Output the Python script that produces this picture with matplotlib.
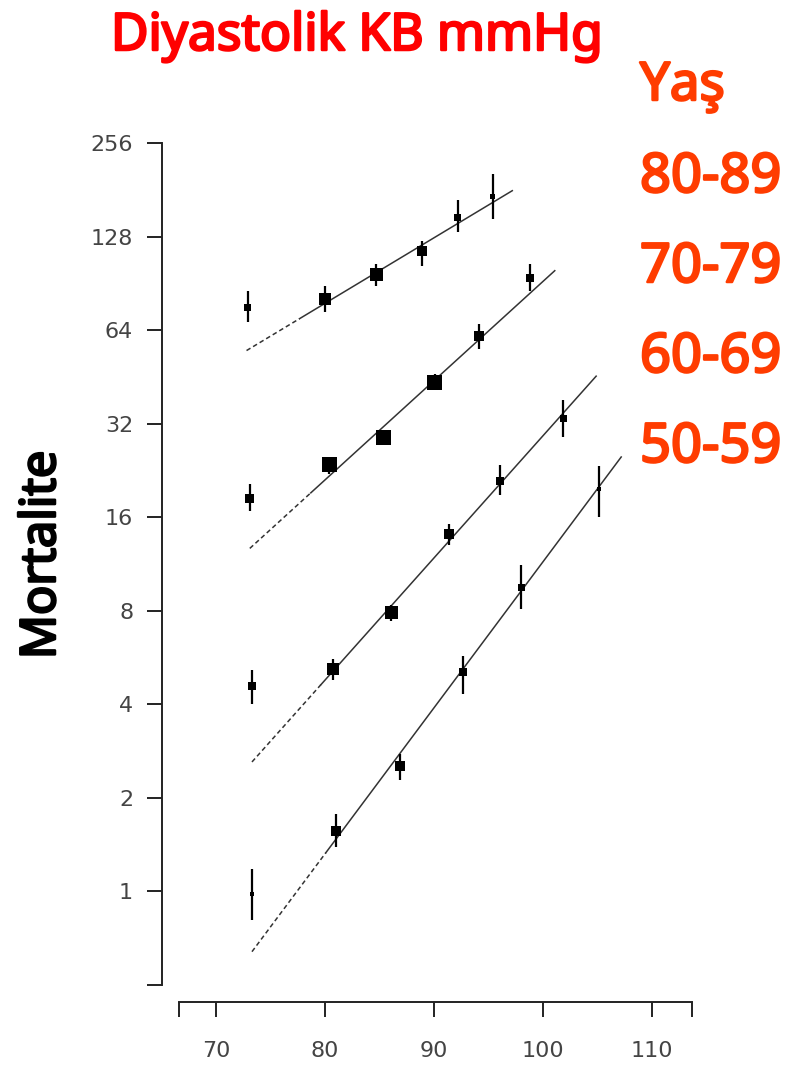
import numpy as np
import matplotlib.pyplot as plt
import matplotlib.patheffects as pe

# mortality vs diastolic BP, one series per age group
ages = ['80-89', '70-79', '60-69', '50-59']

dbp_80 = [72.9, 80.0, 84.7, 88.9, 92.2, 95.4]
mort_80 = [75.8, 80.6, 96.5, 114.8, 147.6, 172.0]
lo_80 = [67.8, 73.4, 89.0, 103.2, 132.7, 145.8]
hi_80 = [85.8, 89.0, 104.5, 124.2, 167.9, 203.5]
n_80 = [7, 12, 13, 10, 7, 5]

dbp_70 = [73.1, 80.4, 85.4, 90.1, 94.1, 98.8]
mort_70 = [18.4, 23.6, 28.9, 43.5, 61.4, 94.0]
lo_70 = [16.7, 22.1, 27.4, 41.1, 55.7, 85.8]
hi_70 = [20.5, 25.0, 30.6, 46.3, 67.0, 104.5]
n_70 = [9, 15, 15, 15, 10, 8]

dbp_60 = [73.3, 80.7, 86.1, 91.4, 96.1, 101.9]
mort_60 = [4.58, 5.18, 7.90, 14.15, 20.9, 33.3]
lo_60 = [4.02, 4.78, 7.43, 12.98, 18.8, 29.0]
hi_60 = [5.14, 5.60, 8.37, 15.24, 23.5, 38.0]
n_60 = [8, 12, 13, 10, 8, 7]

dbp_50 = [73.3, 81.0, 86.9, 92.7, 98.0, 105.2]
mort_50 = [0.98, 1.57, 2.54, 5.08, 9.53, 19.7]
lo_50 = [0.81, 1.39, 2.28, 4.33, 8.12, 16.05]
hi_50 = [1.18, 1.78, 2.77, 5.74, 11.24, 23.4]
n_50 = [4, 10, 10, 8, 7, 4]

# fitted regression lines (start / end)
fit_x = [[72.8, 97.2], [73.1, 101.1], [73.3, 104.9], [73.3, 107.2]]
fit_y = [[55.0, 179.8], [12.7, 99.4], [2.61, 45.5], [0.64, 25.0]]

ytick_vals = [0.5, 1, 2, 4, 8, 16, 32, 64, 128, 256]
ytick_labels = ['', '1', '2', '4', '8', '16', '32', '64', '128', '256']
xtick_vals = [66.6, 70, 80, 90, 100, 110, 113.7]
xtick_labels = ['', '70', '80', '90', '100', '110', '']

W, H = 791, 1068
fig = plt.figure(figsize=(W / 100, H / 100), dpi=100)
ax = fig.add_axes([179 / W, 1 - 985 / H, (692 - 179) / W, (985 - 143) / H])

series = [(dbp_80, mort_80, lo_80, hi_80, n_80),
          (dbp_70, mort_70, lo_70, hi_70, n_70),
          (dbp_60, mort_60, lo_60, hi_60, n_60),
          (dbp_50, mort_50, lo_50, hi_50, n_50)]

for (x, y, lo, hi, n), fx, fy in zip(series, fit_x, fit_y):
    # regression line, dashed at its left end
    t = 0.2
    xm = fx[0] + t * (fx[1] - fx[0])
    ym = fy[0] * (fy[1] / fy[0]) ** t
    ax.plot([fx[0], xm], [fy[0], ym], color='#333', lw=1.1, ls=(0, (3, 2)))
    ax.plot([xm, fx[1]], [ym, fy[1]], color='#333', lw=1.1)
    ax.vlines(x, lo, hi, color='black', lw=1.6)
    ax.scatter(x, y, marker='s', s=(np.array(n) * 0.72) ** 2, color='black',
               linewidths=0, zorder=3)

ax.set_yscale('log', base=2)
ax.set_ylim(0.5, 256)
ax.set_xlim(66.6, 113.7)
ax.set_yticks(ytick_vals)
ax.set_yticklabels(ytick_labels)
ax.set_xticks(xtick_vals)
ax.set_xticklabels(xtick_labels)
ax.minorticks_off()

for s in ['top', 'right']:
    ax.spines[s].set_visible(False)
ax.spines['left'].set_position(('outward', 12))
ax.spines['bottom'].set_position(('outward', 12))
for s in ['left', 'bottom']:
    ax.spines[s].set_linewidth(1.4)
    ax.spines[s].set_color('#222')

ax.tick_params(direction='out', length=11, width=1.4, color='#222',
               labelcolor='#444', labelsize=16)
ax.tick_params(axis='y', pad=10)
ax.tick_params(axis='x', pad=17)

font = ['Noto Sans', 'DejaVu Sans']


def bold(c, w=1.8):
    return [pe.withStroke(linewidth=w, foreground=c)]


fig.text(357 / W, 1 - 50 / H, 'Diyastolik KB mmHg', color='#FF0000',
         fontsize=37, fontweight='bold', family=font, ha='center', va='baseline',
         path_effects=bold('#FF0000'))
fig.text(42 / W, 1 - 555 / H, 'Mortalite', color='black', fontsize=35,
         fontweight='bold', family=font, rotation=90, ha='center', va='center',
         path_effects=bold('black'))

orange = '#FF3C00'
fig.text(640 / W, 1 - 100 / H, 'Yaş', color=orange, fontsize=38,
         fontweight='bold', family=font, ha='left', va='baseline',
         path_effects=bold(orange))
for i, lab in enumerate(ages):
    fig.text(640 / W, 1 - (192 + 90 * i) / H, lab, color=orange, fontsize=39,
             fontweight='bold', family=font, ha='left', va='baseline',
             path_effects=bold(orange))

fig.savefig('out.png', dpi=100)
